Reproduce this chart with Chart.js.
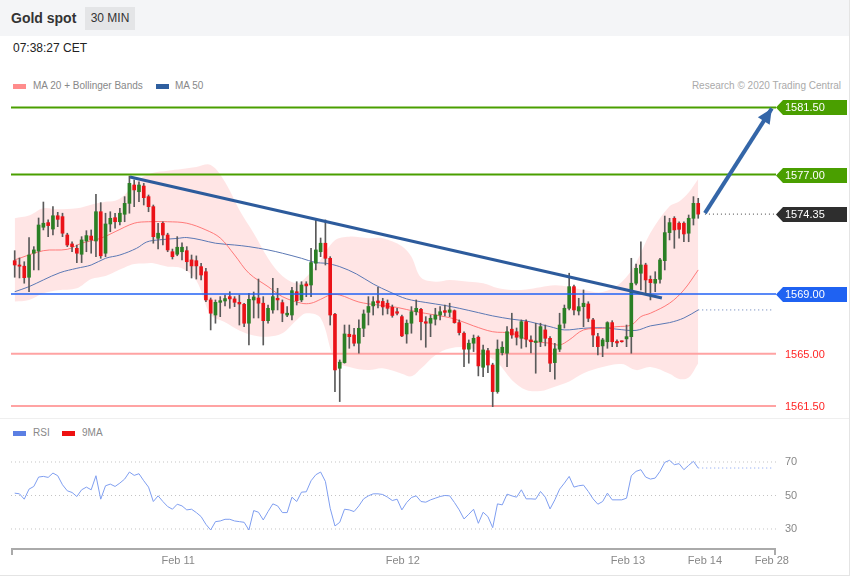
<!DOCTYPE html>
<html>
<head>
<meta charset="utf-8">
<script src="https://cdn.jsdelivr.net/npm/chart.js@4.4.1/dist/chart.umd.min.js"></script>
<style>
body { margin: 0; background: #fff; font-family: "Liberation Sans", Arial, sans-serif; }
#wrap { position: relative; width: 849px; height: 575px; border-right: 1px solid #e4e4e4; border-bottom: 1px solid #e4e4e4; overflow: hidden; }
#head { position: absolute; left: 0; top: 0; width: 849px; height: 36px; background: #f4f5f7; }
#title { position: absolute; left: 11px; top: 10px; font-size: 14px; font-weight: bold; color: #333; }
#badge { position: absolute; left: 85px; top: 7px; width: 50px; height: 23px; line-height: 23px; text-align: center; background: #e4e5e7; font-size: 12px; color: #333; }
#time { position: absolute; left: 13px; top: 41px; font-size: 12px; color: #222; }
.leg { position: absolute; font-size: 10px; color: #888; line-height: 12px; }
.sw { position: absolute; width: 13px; height: 5px; }
#credit { position: absolute; right: 8px; top: 80px; font-size: 10px; color: #aaa; }
#sep { position: absolute; left: 0; top: 418px; width: 849px; height: 1px; background: #efefef; }
canvas { position: absolute; left: 0; }
</style>
</head>
<body>
<div id="wrap">
  <div id="head"></div>
  <div id="title">Gold spot</div>
  <div id="badge">30 MIN</div>
  <div id="time">07:38:27 CET</div>

  <div class="sw" style="left:13px;top:84px;background:#ff8c8c"></div>
  <div class="leg" style="left:33px;top:80px">MA 20 + Bollinger Bands</div>
  <div class="sw" style="left:156px;top:84px;background:#2f5f9f"></div>
  <div class="leg" style="left:175px;top:80px">MA 50</div>
  <div id="credit">Research © 2020 Trading Central</div>

  <div id="sep"></div>

  <div class="sw" style="left:13px;top:431px;background:#5b7fe3"></div>
  <div class="leg" style="left:33px;top:427px">RSI</div>
  <div class="sw" style="left:62px;top:431px;background:#ee1111"></div>
  <div class="leg" style="left:82px;top:427px">9MA</div>

  <canvas id="price" width="850" height="360" style="top:60px"></canvas>
  <canvas id="rsi" width="850" height="156" style="top:420px"></canvas>
</div>

<script>
// ---- data (30 min candles, index 0..143) ----
const candleOpen = [1571.23,1570.94,1570.86,1570.12,1571.73,1571.88,1573.47,1573.78,1573.35,1574.24,
  1574.18,1572.95,1572.35,1572.06,1571.66,1572.55,1572.88,1572.55,1574.51,1571.73,
  1573.69,1574.11,1573.84,1574.34,1575.07,1576.30,1575.85,1576.23,1575.52,1574.85,
  1572.73,1573.74,1572.95,1571.83,1571.66,1571.83,1571.90,1571.28,1571.23,1570.83,
  1570.49,1568.60,1567.59,1568.44,1568.53,1568.82,1568.67,1568.44,1568.31,1567.04,
  1568.60,1568.73,1568.38,1567.21,1567.93,1568.71,1568.42,1567.59,1567.59,1569.15,
  1568.60,1569.67,1569.60,1571.06,1571.83,1572.40,1571.39,1567.64,1564.02,1564.40,
  1566.30,1566.25,1565.70,1566.70,1567.77,1568.20,1568.53,1568.50,1568.38,1568.11,
  1567.81,1567.48,1566.32,1567.04,1567.81,1567.97,1567.14,1567.04,1567.31,1567.59,
  1567.88,1567.77,1567.88,1567.08,1566.37,1565.30,1565.70,1566.10,1564.09,1565.20,
  1564.24,1562.46,1565.07,1565.03,1566.64,1566.47,1566.03,1567.14,1565.92,1565.75,
  1565.80,1566.59,1566.03,1564.40,1565.30,1567.04,1568.04,1569.49,1567.86,1568.15,
  1568.33,1567.26,1566.14,1565.52,1565.80,1567.08,1565.82,1565.82,1565.99,1566.14,
  1569.72,1570.39,1570.94,1569.98,1569.72,1569.98,1571.23,1573.11,1574.07,1573.74,
  1573.74,1573.07,1574.07,1575.07];
const candleHigh = [1571.90,1571.41,1571.16,1572.77,1572.17,1574.09,1575.16,1573.96,1574.85,1574.47,
  1574.41,1573.07,1572.50,1572.28,1572.84,1573.24,1573.29,1575.68,1575.12,1574.41,
  1574.51,1574.41,1574.74,1575.52,1576.90,1576.64,1576.52,1576.41,1575.63,1574.96,
  1573.74,1573.84,1573.07,1572.01,1572.84,1572.42,1572.17,1571.61,1571.55,1571.06,
  1570.72,1568.73,1568.60,1568.82,1568.93,1569.15,1568.82,1568.93,1568.38,1569.05,
  1569.13,1570.00,1568.82,1568.26,1570.05,1569.38,1568.60,1568.15,1569.45,1569.82,
  1569.82,1569.82,1572.06,1573.96,1572.75,1573.96,1571.50,1567.71,1564.58,1566.92,
  1566.92,1566.70,1567.26,1567.93,1568.82,1568.82,1569.45,1568.71,1568.60,1568.26,
  1568.04,1567.59,1567.26,1568.15,1568.60,1568.04,1567.48,1567.59,1568.04,1568.15,
  1568.26,1568.38,1567.93,1567.26,1566.47,1565.92,1566.25,1566.19,1565.58,1565.36,
  1564.36,1565.92,1565.80,1566.81,1567.71,1566.72,1567.26,1567.26,1566.19,1567.04,
  1567.04,1566.92,1566.14,1565.70,1567.71,1568.26,1570.39,1569.60,1568.71,1569.27,
  1568.48,1567.37,1566.37,1566.03,1567.14,1567.21,1565.92,1565.85,1566.92,1571.39,
  1571.01,1572.50,1571.06,1570.21,1570.49,1571.39,1574.22,1574.07,1574.18,1573.84,
  1573.84,1574.29,1575.52,1575.41];
const candleLow = [1570.12,1570.07,1569.72,1569.15,1570.61,1570.61,1573.29,1572.84,1572.95,1573.51,
  1572.84,1572.17,1571.83,1571.10,1571.10,1571.83,1571.73,1571.50,1571.39,1571.50,
  1573.17,1573.40,1573.62,1573.84,1574.41,1574.85,1575.18,1574.96,1574.51,1572.40,
  1572.01,1572.28,1571.83,1571.34,1571.56,1571.28,1570.56,1570.07,1570.00,1569.94,
  1568.48,1566.59,1567.04,1567.48,1568.20,1568.04,1568.15,1566.92,1566.81,1565.58,
  1567.39,1567.39,1565.58,1567.04,1567.71,1567.93,1567.14,1567.48,1567.26,1568.26,
  1568.48,1568.82,1568.82,1570.61,1571.50,1570.94,1566.92,1562.46,1561.79,1564.36,
  1565.36,1565.52,1565.03,1566.14,1566.92,1567.59,1568.06,1567.59,1567.66,1567.44,
  1567.59,1566.14,1565.70,1566.37,1567.59,1565.92,1565.43,1566.14,1566.92,1567.26,
  1567.53,1567.48,1567.04,1566.25,1564.13,1564.36,1565.14,1563.51,1563.46,1563.73,
  1561.45,1562.35,1564.91,1564.13,1566.03,1565.58,1565.36,1565.45,1565.05,1563.69,
  1565.47,1565.52,1563.80,1563.29,1565.14,1566.72,1567.93,1567.59,1567.59,1566.81,
  1567.14,1565.47,1564.91,1564.80,1565.36,1565.47,1565.47,1565.77,1565.47,1565.03,
  1569.60,1569.27,1569.05,1568.60,1569.15,1569.72,1570.61,1572.62,1572.06,1572.73,
  1572.50,1572.50,1573.62,1574.07];
const candleClose = [1570.94,1570.86,1570.09,1571.61,1571.95,1573.62,1573.74,1573.58,1574.24,1574.00,
  1573.07,1572.28,1572.17,1571.73,1572.62,1572.91,1572.62,1574.51,1571.56,1573.69,
  1574.07,1573.84,1574.41,1575.07,1576.41,1575.97,1576.30,1575.45,1574.85,1572.84,
  1573.07,1572.95,1571.95,1571.50,1572.13,1572.13,1571.16,1570.88,1570.88,1570.27,
  1568.60,1567.71,1568.44,1568.55,1568.69,1568.67,1568.44,1568.33,1567.04,1568.64,
  1568.80,1568.38,1567.21,1568.04,1568.82,1568.60,1567.71,1567.71,1569.22,1568.55,
  1569.60,1569.54,1571.10,1571.95,1572.40,1571.39,1567.59,1563.91,1564.43,1566.32,
  1566.14,1565.70,1566.70,1567.66,1568.16,1568.48,1568.40,1568.13,1568.04,1567.56,
  1567.71,1566.19,1567.04,1567.81,1568.04,1567.14,1567.04,1567.37,1567.59,1567.81,
  1567.77,1567.93,1567.08,1566.41,1565.30,1565.70,1566.03,1564.18,1565.25,1564.24,
  1562.46,1565.30,1565.43,1566.47,1566.25,1566.10,1567.14,1565.97,1565.80,1565.85,
  1566.81,1566.03,1564.36,1565.32,1566.92,1568.04,1569.49,1567.93,1568.15,1568.38,
  1567.37,1566.25,1565.47,1565.92,1567.08,1565.80,1565.72,1565.80,1566.14,1569.72,
  1570.72,1570.94,1569.94,1569.76,1569.98,1571.28,1573.11,1573.78,1573.29,1573.33,
  1573.02,1574.07,1575.07,1574.35];

const ma20X = [0,6,11,14,18,21,25,28,32,36,40,43,46,49,53,56,60,62,64,66,68,72,76,80,84,88,92,96,100,104,108,112,114,116,119,123,126,129,131,133,137,140,143];
const ma20Y = [1571.28,1571.90,1571.99,1572.40,1572.73,1573.17,1573.74,1573.84,1573.84,1573.74,
  1573.29,1572.75,1571.61,1570.39,1569.49,1568.82,1568.38,1568.38,1568.64,1568.93,
  1568.93,1568.46,1568.26,1568.10,1567.81,1567.59,1567.33,1566.86,1566.47,1566.37,
  1565.85,1565.70,1565.58,1565.92,1566.59,1566.70,1566.81,1566.92,1567.48,1567.71,
  1568.38,1569.27,1570.61];

const ma50X = [0,3,6,9.5,13,16,19,22,25.5,27.6,30,34,36,39,42,46,49,53,56,60,63,65,68,71.5,75,78.5,82,86,90,93,97,100,104,107,109,112,115,119,123,126,130,133,137,140,143];
const ma50Y = [1569.15,1569.49,1569.94,1570.43,1570.72,1570.94,1571.39,1571.61,1572.06,1572.48,
  1572.62,1572.72,1572.78,1572.62,1572.40,1572.28,1572.17,1571.95,1571.73,1571.39,
  1571.10,1571.06,1570.83,1570.34,1569.67,1569.13,1568.67,1568.43,1568.23,1568.04,
  1567.75,1567.53,1567.31,1567.19,1567.04,1566.81,1566.59,1566.70,1566.74,1566.64,
  1566.56,1566.86,1567.08,1567.39,1567.93];

const bandX = [0,3,6,9,13,16,19,21,23,25,27,29,32,35,38,41,44,47,50,53,56,59,61,64,67,70,74,77,81,83,85,88,91,95,98,101,104,107,110,113,116,119,123,127,130,133,137,139,141,143];
const bandUpper = [1574.07,1574.25,1574.74,1574.67,1574.74,1574.98,1575.17,1575.24,1575.63,1576.43,
  1576.87,1577.12,1577.26,1577.37,1577.51,1577.64,1576.50,1574.63,1573.07,1571.40,
  1570.20,1569.72,1570.14,1571.30,1572.60,1572.84,1572.73,1572.73,1572.20,1571.50,
  1570.10,1569.82,1569.94,1569.82,1569.72,1569.40,1569.27,1569.30,1569.45,1569.58,
  1569.47,1569.27,1569.13,1569.80,1571.10,1573.10,1574.88,1575.20,1575.80,1576.70];
const bandLower = [1568.49,1568.60,1569.05,1569.25,1569.38,1570.00,1570.21,1570.49,1570.78,1571.00,
  1571.04,1571.06,1570.83,1570.72,1569.90,1567.60,1567.10,1566.55,1566.22,1566.14,
  1566.37,1567.26,1567.71,1567.39,1564.58,1564.10,1563.90,1564.02,1563.66,1563.48,
  1564.00,1564.90,1565.35,1565.40,1565.00,1564.40,1563.24,1562.57,1562.50,1562.79,
  1563.13,1563.69,1564.10,1564.30,1563.90,1564.10,1563.65,1563.30,1563.40,1564.36];

const rsiValues = [51.4,51,47.8,53.8,55.4,61,61.4,60.8,63.4,61.8,
  56.4,52.8,51.8,49.4,53.4,55,53.4,61.8,47.8,55.8,
  56.8,55.4,57.4,59.8,64,62,63,58.8,55,46.4,
  49.8,46.4,43.4,41.8,44.8,43.8,41.4,41.8,39.8,37.4,
  32.8,29.4,34.4,34.8,35.8,35.8,34.8,34.4,34,29.4,
  41,40,35.4,40.4,45,43.8,39.8,39.8,49,46.4,
  52,52.2,58.8,62.4,64,58.4,42.4,31.8,34,41.8,
  41.4,40.4,43.8,48,49.8,51,51,50.6,49,47,
  47.8,41.4,45.8,48.8,49.8,46.4,
  46,47.4,48.4,49.4,50,49.8,45.8,41.4,36,38.8,
  41.8,33.4,40,37.4,30.8,45,44.4,50.8,49.8,49,
  53.4,48,48,47.8,52.4,49,42,47.4,53.8,57.4,
  61.4,55,55.8,56.2,52.4,48,44.8,46.4,51.4,47.4,
  47.4,47.4,48.4,61.8,64.4,65.4,61,59.8,60.4,64.4,
  69.8,71,68.4,69,65.4,68,70.4,66.4];
const rsiLevels = [70, 50, 30];

const levelValues = [1581.50, 1577.00, 1574.35, 1569.00, 1565.00, 1561.50];
const trendX = [24.12, 135.4];
const trendY = [1576.84, 1568.73];
const arrowX = [144.4, 158.4];
const arrowY = [1574.42, 1581.43];
const forecastEnd = 158.6;

const dateTicks = [34.2, 81.2, 128.3, 144.4, 158.4];
const dateLabels = ['Feb 11', 'Feb 12', 'Feb 13', 'Feb 14', 'Feb 28'];

// ---- scales ----
const xMin = -0.774, xMax = 159.27;
const priceMin = 1560.69, priceMax = 1582.33;
const rsiMin = 18.06, rsiMax = 83.13;
const FONT = '"Liberation Sans", Arial, sans-serif';
const lastI = candleClose.length - 1;

function pts(xs, ys) { return xs.map((x, i) => ({x: x, y: ys[i]})); }
function line(data, opts) {
    return Object.assign({type: 'line', data: data, pointRadius: 0, borderWidth: 1, fill: false, tension: 0}, opts);
}

// level line styles: [color, width, dash, tag fill, text color]
const levelStyle = [
    ['#4a9f00', 2, [], '#4a9f00', '#fff'],
    ['#4a9f00', 2, [], '#4a9f00', '#fff'],
    ['#444', 1, [1, 3], '#2e2e2e', '#fff'],
    ['#2262f5', 1.5, [], '#1f62f2', '#fff'],
    ['#ffa3a3', 2, [], null, '#ff2525'],
    ['#ffa3a3', 2, [], null, '#ff2525']
];

const levelSets = levelValues.map((v, k) => {
    const s = levelStyle[k];
    const from = s[2].length ? lastI + 1.4 : xMin;
    return line(pts([from, xMax], [v, v]), {
        borderColor: s[0], borderWidth: s[1], borderDash: s[2],
        order: s[4] === '#ff2525' ? 12 : 3
    });
});

const priceLabels = {
    id: 'priceLabels',
    afterDatasetsDraw(chart) {
        const {ctx, scales: {x, y}} = chart;
        // arrow head
        const x0 = x.getPixelForValue(arrowX[0]), y0 = y.getPixelForValue(arrowY[0]);
        const x1 = x.getPixelForValue(arrowX[1]), y1 = y.getPixelForValue(arrowY[1]);
        const a = Math.atan2(y1 - y0, x1 - x0);
        const len = 15, hw = 7;
        ctx.save();
        ctx.fillStyle = '#3466a8';
        ctx.beginPath();
        ctx.moveTo(x1, y1);
        ctx.lineTo(x1 - len * Math.cos(a) + hw * Math.sin(a), y1 - len * Math.sin(a) - hw * Math.cos(a));
        ctx.lineTo(x1 - len * Math.cos(a) - hw * Math.sin(a), y1 - len * Math.sin(a) + hw * Math.cos(a));
        ctx.closePath();
        ctx.fill();
        ctx.restore();
    },
    afterDraw(chart) {
        const {ctx, chartArea, scales: {y}} = chart;
        ctx.save();
        ctx.font = '11px ' + FONT;
        ctx.textBaseline = 'middle';
        levelValues.forEach((v, k) => {
            const s = levelStyle[k];
            const py = Math.round(y.getPixelForValue(v)) + 0.5;
            const left = chartArea.right;
            if (s[3]) {
                ctx.fillStyle = s[3];
                ctx.beginPath();
                ctx.moveTo(left, py);
                ctx.lineTo(left + 7, py - 7.5);
                ctx.lineTo(847, py - 7.5);
                ctx.lineTo(847, py + 7.5);
                ctx.lineTo(left + 7, py + 7.5);
                ctx.closePath();
                ctx.fill();
            }
            ctx.fillStyle = s[4];
            ctx.fillText(v.toFixed(2), 785, py + 0.5);
        });
        ctx.restore();
    }
};

new Chart(document.getElementById('price'), {
    type: 'bar',
    data: {
        datasets: [
            line(pts(bandX, bandUpper), {borderWidth: 0, borderColor: 'rgba(0,0,0,0)', fill: '+1', backgroundColor: 'rgba(255,125,125,0.2)', tension: 0.35, order: 20}),
            line(pts(bandX, bandLower), {borderWidth: 0, borderColor: 'rgba(0,0,0,0)', tension: 0.35, order: 20}),
            line(pts(ma20X, ma20Y), {borderColor: 'rgba(255,110,110,0.9)', tension: 0.35, order: 15}),
            line(pts(ma50X, ma50Y), {borderColor: '#5b78b4', tension: 0.35, order: 15}),
            line(pts([lastI, forecastEnd], [ma50Y[ma50Y.length - 1], ma50Y[ma50Y.length - 1]]), {borderColor: '#5b78b4', borderDash: [1, 3], order: 15}),
            ...levelSets,
            {
                type: 'bar', order: 8, grouped: false, barThickness: 1,
                backgroundColor: '#5a5a5a',
                data: candleLow.map((l, i) => ({x: i, y: [l, candleHigh[i]]}))
            },
            {
                type: 'bar', order: 7, grouped: false, barThickness: 3, minBarLength: 1,
                backgroundColor: candleClose.map((c, i) => c >= candleOpen[i] ? '#2b7f25' : '#ea1218'),
                data: candleOpen.map((o, i) => ({x: i, y: [o, candleClose[i]]}))
            },
            line(pts(trendX, trendY), {borderColor: '#2d5b9c', borderWidth: 3, order: 2}),
            line(pts(arrowX, arrowY), {borderColor: '#3466a8', borderWidth: 4, order: 1})
        ]
    },
    options: {
        responsive: false, animation: false, devicePixelRatio: 1,
        layout: {padding: {left: 11, right: 74, top: 35, bottom: 2}},
        plugins: {legend: {display: false}, tooltip: {enabled: false}},
        scales: {
            x: {type: 'linear', min: xMin, max: xMax, offset: false, display: false},
            y: {type: 'linear', min: priceMin, max: priceMax, display: false}
        }
    },
    plugins: [priceLabels]
});

// ---- RSI panel ----
const rsiAxis = {
    id: 'rsiAxis',
    afterDraw(chart) {
        const {ctx, chartArea, scales: {x, y}} = chart;
        ctx.save();
        ctx.font = '11px ' + FONT;
        ctx.fillStyle = '#888';
        ctx.textBaseline = 'middle';
        rsiLevels.forEach(v => ctx.fillText(String(v), 785, y.getPixelForValue(v)));
        const by = chartArea.bottom;
        ctx.strokeStyle = '#aaa';
        ctx.lineWidth = 2;
        ctx.beginPath();
        ctx.moveTo(chartArea.left + 1, by + 6);
        ctx.lineTo(chartArea.left + 1, by);
        ctx.lineTo(chartArea.right - 1, by);
        ctx.lineTo(chartArea.right - 1, by + 6);
        ctx.stroke();
        ctx.textAlign = 'center';
        dateTicks.forEach((t, k) => ctx.fillText(dateLabels[k], x.getPixelForValue(t), by + 12));
        ctx.restore();
    }
};

new Chart(document.getElementById('rsi'), {
    type: 'line',
    data: {
        datasets: [
            ...rsiLevels.map(v => line(pts([xMin, xMax], [v, v]), {borderColor: '#c4c4c4', borderDash: [1, 3], order: 5})),
            line(pts(rsiValues.map((_, i) => i), rsiValues), {borderColor: '#7f9ef0', order: 1}),
            line(pts([lastI, forecastEnd], [rsiValues[lastI], rsiValues[lastI]]), {borderColor: '#7f9ef0', borderDash: [1, 3], order: 1})
        ]
    },
    options: {
        responsive: false, animation: false, devicePixelRatio: 1,
        layout: {padding: {left: 11, right: 74, top: 20, bottom: 27}},
        plugins: {legend: {display: false}, tooltip: {enabled: false}},
        scales: {
            x: {type: 'linear', min: xMin, max: xMax, display: false},
            y: {type: 'linear', min: rsiMin, max: rsiMax, display: false}
        }
    },
    plugins: [rsiAxis]
});
</script>
</body>
</html>
